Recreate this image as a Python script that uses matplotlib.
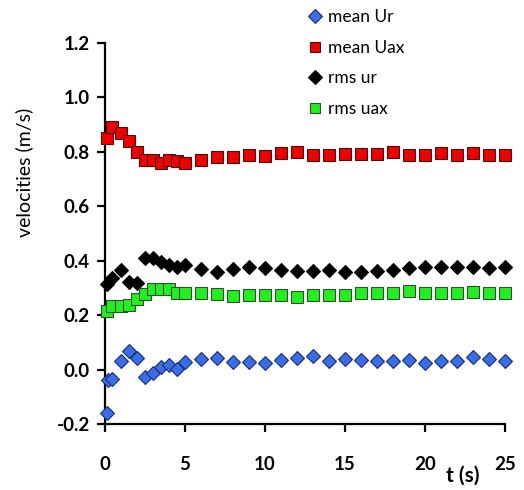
import numpy as np
import matplotlib.pyplot as plt

plt.rcParams['font.family'] = ['Lato', 'DejaVu Sans']

# czasy pomiarow
t_early = [0.15, 0.45, 1, 1.5, 2, 2.5, 3, 3.5, 4, 4.5, 5]
t_late = list(range(6, 26))
t = t_early + t_late
t_ur = [0.15, 0.2, 0.45, 1, 1.5, 2, 2.5, 3, 3.5, 4, 4.5, 5] + t_late

mean_ur = [-0.16, -0.04, -0.035, 0.031, 0.068, 0.041, -0.026, -0.012, 0.008, 0.017, 0.001, 0.029,
           0.039, 0.041, 0.029, 0.029, 0.023, 0.035, 0.041, 0.050, 0.032, 0.038,
           0.035, 0.032, 0.032, 0.035, 0.025, 0.032, 0.032, 0.045, 0.038, 0.032]
mean_uax = [0.85, 0.89, 0.87, 0.84, 0.80, 0.77, 0.77, 0.76, 0.77, 0.765, 0.76,
            0.77, 0.78, 0.78, 0.79, 0.785, 0.795, 0.80, 0.79, 0.788, 0.792,
            0.792, 0.792, 0.80, 0.788, 0.788, 0.795, 0.788, 0.795, 0.788, 0.788]
rms_ur = [0.315, 0.335, 0.366, 0.323, 0.319, 0.411, 0.411, 0.396, 0.384, 0.378, 0.384,
          0.368, 0.357, 0.368, 0.378, 0.374, 0.366, 0.363, 0.363, 0.366, 0.360,
          0.360, 0.363, 0.366, 0.372, 0.376, 0.378, 0.376, 0.376, 0.372, 0.376]
rms_uax = [0.215, 0.232, 0.233, 0.237, 0.258, 0.278, 0.295, 0.295, 0.295, 0.283, 0.280,
           0.280, 0.278, 0.270, 0.274, 0.274, 0.274, 0.268, 0.274, 0.274, 0.274,
           0.280, 0.280, 0.280, 0.290, 0.280, 0.280, 0.280, 0.286, 0.280, 0.280]

fig = plt.figure(figsize=(5.24, 4.9), dpi=100)
ax = fig.add_axes([105/524, 1 - 424/490, 400/524, 381/490])

ax.plot(t_ur, mean_ur, 'D', ms=7.5, mfc='#3A6EE8', mec='#1B2F6E', mew=0.8,
        label='mean Ur', clip_on=False, zorder=3)
ax.plot(t, mean_uax, 's', ms=8.5, mfc='#EE0000', mec='#4A1010', mew=0.8,
        label='mean Uax', clip_on=False, zorder=3)
ax.plot(t, rms_ur, 'D', ms=7.5, mfc='black', mec='black', mew=0.8,
        label='rms ur', clip_on=False, zorder=3)
ax.plot(t, rms_uax, 's', ms=8.5, mfc='#22EE22', mec='#2F4F2F', mew=0.8,
        label='rms uax', clip_on=False, zorder=3)

ax.set_xlim(0, 25)
ax.set_ylim(-0.2, 1.2)
ax.set_xticks([0, 5, 10, 15, 20, 25])
ax.set_yticks(np.arange(-0.2, 1.21, 0.2))
ax.set_yticklabels(['%.1f' % v for v in np.arange(-0.2, 1.21, 0.2)])

for s in ['top', 'right']:
    ax.spines[s].set_visible(False)
for s in ['left', 'bottom']:
    ax.spines[s].set_linewidth(1.6)

ax.tick_params(axis='both', direction='out', length=6, width=1.6, labelsize=13.5)
ax.tick_params(axis='x', pad=17)
ax.tick_params(axis='y', pad=5)
for lab in ax.get_xticklabels() + ax.get_yticklabels():
    lab.set_fontweight('bold')

ax.set_ylabel('velocities (m/s)', fontsize=14)
ax.yaxis.set_label_coords(-0.18, 0.66)
ax.text(0.895, -0.135, 't (s)', transform=ax.transAxes, fontsize=15,
        fontweight='bold', ha='center', va='center')

fig.legend(loc='upper left', bbox_to_anchor=(302/524, 1 - 2/490), frameon=False,
           numpoints=1, handlelength=0.7, handletextpad=0.4, labelspacing=0.85,
           fontsize=12.5, markerscale=0.9, borderaxespad=0)

fig.savefig('out.png', dpi=100)
